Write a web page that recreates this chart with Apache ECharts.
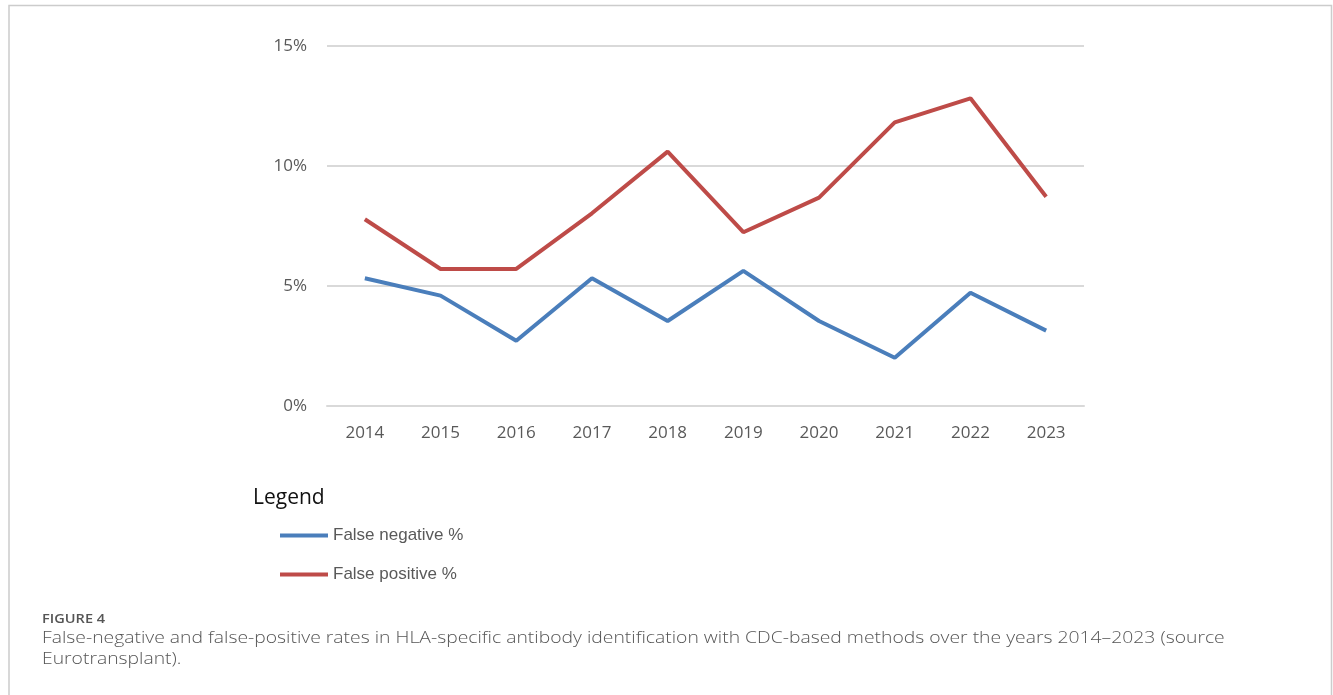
<!DOCTYPE html>
<html>
<head>
<meta charset="utf-8">
<script src="https://cdn.jsdelivr.net/npm/echarts@6/dist/echarts.min.js"></script>
<style>
html,body{margin:0;padding:0;background:#fff;}
#chart{width:1333px;height:695px;}
</style>
</head>
<body>
<div id="chart"></div>
<script>
const years = ['2014','2015','2016','2017','2018','2019','2020','2021','2022','2023'];
const falseNegative = [5.32, 4.6, 2.72, 5.32, 3.54, 5.63, 3.54, 2.01, 4.72, 3.14];
const falsePositive = [7.78, 5.71, 5.71, 8.03, 10.6, 7.24, 8.68, 11.82, 12.82, 8.72];
const seriesNames = ['False negative %', 'False positive %'];
const yTicks = [0, 5, 10, 15];
const captionLabel = 'FIGURE 4';
const captionLine1 = 'False-negative and false-positive rates in HLA-specific antibody identification with CDC-based methods over the years 2014\u20132023 (source';
const captionLine2 = 'Eurotransplant).';

const chart = echarts.init(document.getElementById('chart'));
const axisFont = 'Open Sans, sans-serif';
chart.setOption({
  animation: false,
  backgroundColor: '#ffffff',
  grid: {left: 327, right: 249, top: 46, bottom: 289, containLabel: false},
  xAxis: {
    type: 'category',
    data: years,
    boundaryGap: true,
    axisLine: {show: true, lineStyle: {color: '#d9d9d9', width: 2}},
    axisTick: {show: false},
    axisLabel: {color: '#595959', fontSize: 17, fontFamily: axisFont, margin: 19}
  },
  yAxis: {
    type: 'value',
    min: yTicks[0],
    max: yTicks[yTicks.length - 1],
    interval: 5,
    axisLine: {show: false},
    axisTick: {show: false},
    axisLabel: {color: '#595959', fontSize: 17, fontFamily: axisFont, margin: 20, formatter: v => v + '%'},
    splitLine: {lineStyle: {color: '#d9d9d9', width: 2}}
  },
  legend: {
    orient: 'vertical',
    left: 275,
    top: 522,
    padding: 5,
    icon: 'rect',
    itemWidth: 48,
    itemHeight: 4,
    itemGap: 22,
    textStyle: {color: '#595959', fontSize: 17, fontFamily: 'Liberation Sans, sans-serif'},
    data: seriesNames
  },
  series: [
    {name: seriesNames[0], type: 'line', data: falseNegative, symbol: 'none', lineStyle: {color: '#4a7ebb', width: 4}, itemStyle: {color: '#4a7ebb'}},
    {name: seriesNames[1], type: 'line', data: falsePositive, symbol: 'none', lineStyle: {color: '#be4b48', width: 4}, itemStyle: {color: '#be4b48'}}
  ],
  graphic: [
    {type: 'polyline', shape: {points: [[9, 695], [9, 5.5], [1331.5, 5.5], [1331.5, 695]]}, style: {stroke: '#cccccc', lineWidth: 1.5, fill: null}, silent: true},
    {type: 'text', left: 253, top: 488, style: {text: 'Legend', fill: '#111', font: '21px "Open Sans", sans-serif'}},
    {type: 'text', x: 42, y: 613, scaleX: 1.12, style: {text: captionLabel, fill: '#555', font: '600 13px "Open Sans", sans-serif', verticalAlign: 'top', align: 'left'}},
    {type: 'text', x: 42, y: 630, scaleX: 1.137, style: {text: captionLine1, fill: '#555', font: '300 17px "Open Sans", sans-serif', verticalAlign: 'top', align: 'left'}},
    {type: 'text', x: 42, y: 651, scaleX: 1.137, style: {text: captionLine2, fill: '#555', font: '300 17px "Open Sans", sans-serif', verticalAlign: 'top', align: 'left'}}
  ]
});
</script>
</body>
</html>
